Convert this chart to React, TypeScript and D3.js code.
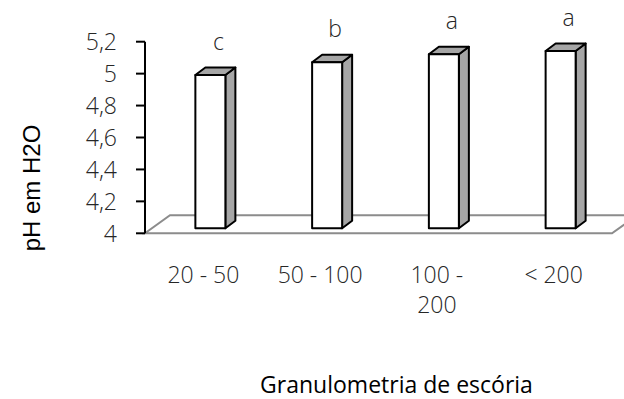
import React from "react";
import * as d3 from "d3";

// Slag particle-size classes and measured pH (H2O)
const categories = ["20 - 50", "50 - 100", "100 - 200", "< 200"];
const phValues = [4.96, 5.04, 5.09, 5.11];
const significance = ["c", "b", "a", "a"];
const yTicks = [4, 4.2, 4.4, 4.6, 4.8, 5, 5.2];

const W = 624;
const H = 399;

// oblique 3-D projection offsets
const FLOOR_DX = 25;
const FLOOR_DY = -18;
const BAR_SHIFT_X = 7;
const BAR_SHIFT_Y = -5;
const BAR_DX = 10;
const BAR_DY = -7.5;

const textFont = "'Open Sans', 'Noto Sans', sans-serif";
const titleFont = "'Liberation Sans', Arial, sans-serif";

function wrapLabel(label: string): string[] {
  if (label.length <= 8) return [label];
  const cut = label.lastIndexOf(" ");
  return [label.slice(0, cut), label.slice(cut + 1)];
}

const fmt = (v: number) => String(+v.toFixed(1)).replace(".", ",");

export default function App() {
  const x0 = 145;
  const x1 = 612;
  const y = d3.scaleLinear().domain([4, 5.2]).range([233.3, 41.7]);
  const x = d3
    .scaleBand<string>()
    .domain(categories)
    .range([x0, x1])
    .paddingInner(0.743)
    .paddingOuter(0.3715);

  const yBase = y(4);
  const floorPts = [
    [x0, yBase],
    [x1, yBase],
    [x1 + FLOOR_DX, yBase + FLOOR_DY],
    [x0 + FLOOR_DX, yBase + FLOOR_DY],
  ]
    .map((p) => p.join(","))
    .join(" ");

  const bw = x.bandwidth();

  return (
    <svg
      width={W}
      height={H}
      style={{ position: "absolute", left: 0, top: 0, background: "#fff" }}
    >
      {/* floor */}
      <polygon points={floorPts} fill="none" stroke="#8c8c8c" strokeWidth={2} />

      {/* y axis */}
      <line x1={x0} x2={x0} y1={y(5.2)} y2={y(4)} stroke="#000" strokeWidth={2} />
      {yTicks.map((t) => (
        <g key={t}>
          <line x1={x0 - 9} x2={x0} y1={y(t)} y2={y(t)} stroke="#000" strokeWidth={2} />
          <text
            x={117}
            y={y(t) + 8.5}
            textAnchor="end"
            fontFamily={textFont}
            fontSize={23}
            fontWeight={300}
            fill="#262626"
          >
            {fmt(t)}
          </text>
        </g>
      ))}

      {/* bars */}
      {categories.map((c, i) => {
        const bx = (x(c) as number) + BAR_SHIFT_X;
        const bxr = bx + bw;
        const top = y(phValues[i]) + BAR_SHIFT_Y;
        const bot = yBase + BAR_SHIFT_Y;
        const side = `${bxr},${top} ${bxr + BAR_DX},${top + BAR_DY} ${bxr + BAR_DX},${bot + BAR_DY} ${bxr},${bot}`;
        const lid = `${bx},${top} ${bx + BAR_DX},${top + BAR_DY} ${bxr + BAR_DX},${top + BAR_DY} ${bxr},${top}`;
        return (
          <g key={c} stroke="#000" strokeWidth={2} strokeLinejoin="round">
            <polygon points={side} fill="#a6a6a6" />
            <polygon points={lid} fill="#a6a6a6" />
            <rect x={bx} y={top} width={bw} height={bot - top} fill="#fff" />
            <text
              x={bx + (bw + BAR_DX) / 2 + 3}
              y={top - 25}
              textAnchor="middle"
              stroke="none"
              fontFamily={textFont}
              fontSize={23}
              fontWeight={300}
              fill="#262626"
            >
              {significance[i]}
            </text>
          </g>
        );
      })}

      {/* category labels */}
      {categories.map((c) => {
        const cx = (x(c) as number) + bw / 2;
        return (
          <text
            key={c}
            textAnchor="middle"
            fontFamily={textFont}
            fontSize={23}
            fontWeight={300}
            fill="#262626"
          >
            {wrapLabel(c).map((line, j) => (
              <tspan key={j} x={cx} y={283 + j * 30}>
                {line}
              </tspan>
            ))}
          </text>
        );
      })}

      {/* axis titles */}
      <text
        transform={`translate(40, ${188}) rotate(-90)`}
        textAnchor="middle"
        fontFamily={titleFont}
        fontSize={24}
        fill="#000"
      >
        pH em H2O
      </text>
      <text
        x={396.5}
        y={393}
        textAnchor="middle"
        fontFamily={textFont}
        fontSize={23}
        fill="#000"
      >
        Granulometria de escória
      </text>
    </svg>
  );
}
